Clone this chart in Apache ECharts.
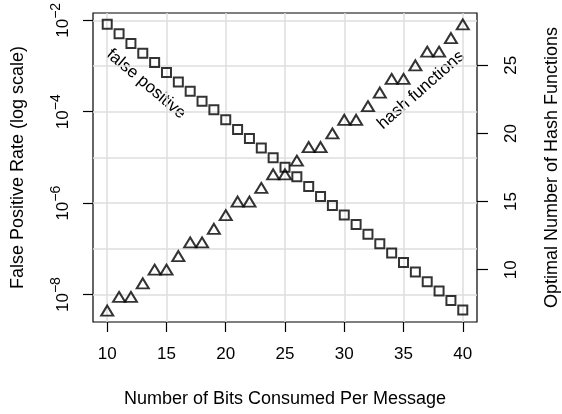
<!DOCTYPE html>
<html>
<head>
<meta charset="utf-8">
<script src="https://cdn.jsdelivr.net/npm/echarts@6/dist/echarts.min.js"></script>
<style>
  html, body { margin: 0; padding: 0; background: #fff; }
  #chart { width: 562px; height: 414px; }
</style>
</head>
<body>
<div id="chart"></div>
<script>
// bits consumed per message (x)
var bits = [10, 11, 12, 13, 14, 15, 16, 17, 18, 19, 20, 21, 22, 23, 24, 25,
            26, 27, 28, 29, 30, 31, 32, 33, 34, 35, 36, 37, 38, 39, 40];
// false positive rate
var falsePositive = [8.2e-3, 5.1e-3, 3.1e-3, 1.9e-3, 1.2e-3, 7.2e-4, 4.5e-4, 2.8e-4,
                     1.7e-4, 1.1e-4, 6.7e-5, 4.1e-5, 2.6e-5, 1.6e-5, 9.8e-6, 6.1e-6,
                     3.8e-6, 2.3e-6, 1.4e-6, 8.9e-7, 5.5e-7, 3.4e-7, 2.1e-7, 1.3e-7,
                     8.1e-8, 5.0e-8, 3.1e-8, 1.9e-8, 1.2e-8, 7.4e-9, 4.6e-9];
// optimal number of hash functions (right axis)
var hashFunctions = [7, 8, 8, 9, 10, 10, 11, 12, 12, 13, 14, 15, 15, 16, 17, 17,
                     18, 19, 19, 20, 21, 21, 22, 23, 24, 24, 25, 26, 26, 27, 28];

var xTicks = [10, 15, 20, 25, 30, 35, 40];
var leftTicks = [1e-8, 1e-6, 1e-4, 1e-2];
var leftGrid = [1e-8, 1e-7, 1e-6, 1e-5, 1e-4, 1e-3, 1e-2];
var rightTicks = [10, 15, 20, 25];

var font = 'Liberation Sans, Arial, sans-serif';
var chart = echarts.init(document.getElementById('chart'));

function pairs(ys) {
  return bits.map(function (b, i) { return [b, ys[i]]; });
}

chart.setOption({
  animation: false,
  textStyle: { fontFamily: font },
  grid: {
    left: 93, top: 13, right: 85, bottom: 92,
    outerBoundsMode: 'none',
    show: true, borderColor: '#000', borderWidth: 1.2, backgroundColor: 'transparent'
  },
  xAxis: {
    type: 'value', min: 8.8, max: 41.2,
    name: 'Number of Bits Consumed Per Message',
    nameLocation: 'middle', nameGap: 68,
    nameTextStyle: { fontSize: 18, color: '#000', fontFamily: font },
    axisLine: { show: false },
    axisTick: { customValues: xTicks, length: 10, lineStyle: { color: '#000', width: 1.2 } },
    axisLabel: { customValues: xTicks, margin: 24, fontSize: 17, color: '#000', fontFamily: font },
    splitLine: { show: true, lineStyle: { color: '#dedede', width: 1.5 } }
  },
  yAxis: [{
    type: 'log', min: Math.pow(10, -8.6), max: Math.pow(10, -1.84), position: 'left',
    name: 'False Positive Rate (log scale)',
    nameLocation: 'middle', nameGap: 66, nameRotate: 90,
    nameTextStyle: { fontSize: 18, color: '#000', fontFamily: font },
    axisLine: { show: false },
    axisTick: { customValues: leftTicks, length: 10, lineStyle: { color: '#000', width: 1.2 } },
    axisLabel: {
      customValues: leftTicks, rotate: 90, margin: 21, color: '#000', fontFamily: font,
      formatter: function (v) {
        return '{b|10}{s|\u2212' + Math.round(-Math.log10(v)) + '}';
      },
      rich: {
        b: { fontSize: 17, lineHeight: 23, verticalAlign: 'bottom', color: '#000', fontFamily: font },
        s: { fontSize: 14, lineHeight: 23, verticalAlign: 'top', color: '#000', fontFamily: font }
      }
    },
    splitLine: { show: false }
  }, {
    type: 'value', min: 6.16, max: 28.84, position: 'right',
    name: 'Optimal Number of Hash Functions',
    nameLocation: 'middle', nameGap: 66, nameRotate: 90,
    nameTextStyle: { fontSize: 18, color: '#000', fontFamily: font },
    axisLine: { show: false },
    axisTick: { customValues: rightTicks, length: 11, lineStyle: { color: '#000', width: 1.2 } },
    axisLabel: { customValues: rightTicks, rotate: 90, margin: 26, fontSize: 17, color: '#000', fontFamily: font },
    splitLine: { show: false }
  }, {
    // decade grid lines only
    type: 'log', min: Math.pow(10, -8.6), max: Math.pow(10, -1.84), position: 'left',
    axisLine: { show: false },
    axisTick: { show: false, customValues: leftGrid },
    axisLabel: { show: false },
    splitLine: { show: true, lineStyle: { color: '#dedede', width: 1.5 } }
  }],
  series: [{
    name: 'false positive', type: 'scatter', yAxisIndex: 0,
    data: pairs(falsePositive),
    symbol: 'rect', symbolSize: 9,
    itemStyle: { color: 'rgba(255,255,255,0)', borderColor: '#000', borderWidth: 2 },
    z: 5
  }, {
    name: 'hash functions', type: 'scatter', yAxisIndex: 1,
    data: pairs(hashFunctions),
    symbol: 'triangle', symbolSize: [12, 10],
    itemStyle: { color: 'rgba(255,255,255,0)', borderColor: '#000', borderWidth: 2 },
    z: 5
  }],
  graphic: [{
    type: 'text', x: 146, y: 84, rotation: -0.70,
    style: { text: 'false positive', fontSize: 17, fill: '#000', fontFamily: font, align: 'center', verticalAlign: 'middle' }
  }, {
    type: 'text', x: 421, y: 90, rotation: 0.72,
    style: { text: 'hash functions', fontSize: 17, fill: '#000', fontFamily: font, align: 'center', verticalAlign: 'middle' }
  }]
});
</script>
</body>
</html>
